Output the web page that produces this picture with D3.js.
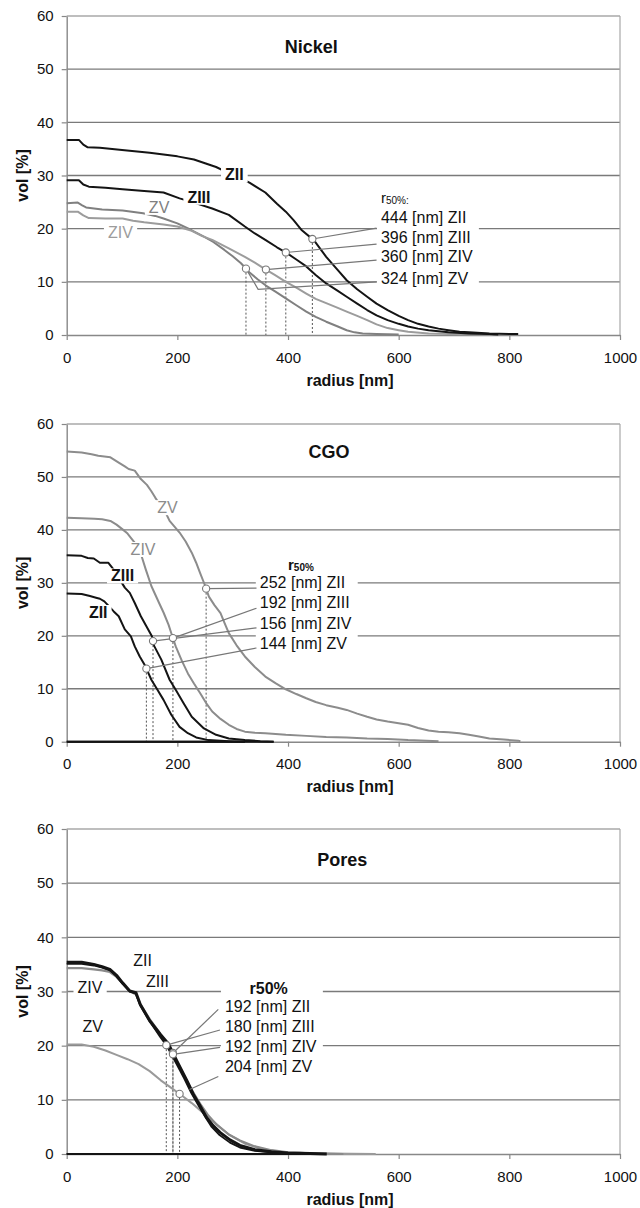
<!DOCTYPE html>
<html>
<head>
<meta charset="utf-8">
<script src="https://cdn.jsdelivr.net/npm/d3@7"></script>
<style>
  body { margin: 0; background: #fff; }
  svg { display: block; }
  text { font-family: "Liberation Sans", Arial, Helvetica, sans-serif; }
</style>
</head>
<body>
<svg id="chart" width="640" height="1208"></svg>
<script>
// ---- axis ticks ----
const xTicks = [0, 200, 400, 600, 800, 1000];
const yTicks = [0, 10, 20, 30, 40, 50, 60];
const zoneNames = ["ZII", "ZIII", "ZIV", "ZV"];

// ---- Nickel: cumulative volume [%] vs radius [nm] ----
const nickelZII = [[0,36.7],[22,36.7],[30,35.8],[38,35.3],[60,35.2],[100,34.8],[150,34.3],[200,33.6],[230,33.0],[250,32.3],[270,31.6],[290,30.6],[310,29.8],[331,28.6],[359,26.8],[380,24.7],[396,23.2],[410,21.6],[425,19.7],[447,17.8],[469,14.7],[490,12.2],[506,10.3],[525,8.6],[543,7.2],[560,5.9],[580,4.7],[600,3.6],[617,2.8],[635,2.1],[654,1.6],[672,1.2],[690,0.9],[710,0.6],[727,0.5],[764,0.3],[800,0.2],[816,0.2]];
const nickelZIII = [[0,29.1],[22,29.1],[30,28.3],[40,27.9],[70,27.7],[101,27.4],[140,27.1],[175,26.8],[204,25.7],[230,24.9],[263,23.8],[293,22.6],[322,20.4],[340,19.1],[359,17.9],[380,16.5],[398,15.4],[415,14.2],[433,12.9],[450,11.3],[469,9.7],[490,8.3],[506,7.2],[525,5.9],[543,4.7],[560,3.7],[580,2.8],[600,2.1],[617,1.6],[635,1.2],[654,0.9],[690,0.5],[727,0.3],[764,0.2],[780,0.1]];
const nickelZIV = [[0,23.2],[20,23.2],[30,22.5],[40,22.0],[70,21.9],[101,21.9],[120,21.5],[140,21.2],[175,20.8],[200,20.4],[226,19.6],[245,18.6],[263,17.9],[293,16.3],[322,14.7],[340,13.6],[357,12.5],[376,11.3],[396,10.0],[415,8.9],[433,7.8],[450,6.8],[469,6.0],[490,5.1],[506,4.4],[525,3.6],[543,2.8],[560,2.0],[580,1.3],[600,0.9],[617,0.6],[654,0.3],[690,0.2],[740,0.1],[770,0.1]];
const nickelZV = [[0,24.8],[20,24.9],[28,24.4],[35,24.0],[64,23.6],[101,23.4],[138,22.9],[160,22.4],[175,21.9],[200,21.0],[226,19.7],[248,18.5],[265,17.5],[285,16.0],[300,14.8],[315,13.5],[330,11.8],[345,10.5],[360,9.3],[378,8.1],[396,6.9],[415,5.6],[433,4.4],[450,3.4],[469,2.5],[490,1.6],[506,0.9],[520,0.5],[535,0.3],[560,0.2],[600,0.1]];
const nickelR50 = [444, 396, 360, 324];

// ---- CGO ----
const cgoZII = [[0,28.0],[27,27.9],[42,27.5],[53,27.2],[60,27.0],[68,26.5],[77,25.5],[85,24.6],[94,23.7],[105,21.2],[116,19.9],[123,18.0],[132,16.1],[141,14.5],[153,11.7],[164,9.8],[175,7.9],[189,5.1],[204,2.8],[219,1.6],[234,0.8],[256,0.3],[293,0.1],[322,0]];
const cgoZIII = [[0,35.2],[27,35.1],[38,34.7],[49,34.6],[60,33.8],[75,33.8],[85,32.5],[95,30.8],[105,29.1],[114,28.1],[123,26.2],[134,23.7],[144,21.8],[154,19.9],[158,18.1],[171,15.5],[186,11.7],[197,9.8],[211,7.3],[226,4.7],[248,2.5],[270,1.3],[293,0.6],[322,0.3],[350,0.1],[374,0]];
const cgoZIV = [[0,42.3],[27,42.2],[50,42.1],[64,42.0],[79,41.7],[90,41.0],[101,40.1],[110,39.3],[116,38.5],[125,37.3],[134,35.5],[143,32.5],[153,29.4],[160,27.8],[167,26.2],[175,24.4],[184,22.1],[190,20.2],[197,18.0],[208,15.3],[219,12.9],[230,11.0],[241,9.2],[252,7.3],[263,5.7],[278,4.3],[293,3.2],[307,2.4],[322,1.9],[340,1.7],[359,1.6],[396,1.3],[433,1.1],[469,0.9],[506,0.8],[543,0.6],[580,0.5],[617,0.3],[650,0.2],[672,0.1]];
const cgoZV = [[0,54.8],[27,54.6],[45,54.3],[57,54.0],[79,53.7],[94,52.7],[105,52.0],[112,51.5],[123,51.2],[134,49.6],[145,48.5],[153,47.3],[160,46.1],[170,44.5],[180,43.0],[186,41.7],[204,39.5],[215,37.8],[226,35.7],[234,33.8],[241,31.9],[250,29.5],[257,27.4],[267,25.8],[278,24.3],[285,22.5],[293,20.5],[307,18.2],[322,16.1],[340,14.1],[359,12.3],[378,11.0],[396,9.9],[415,9.0],[433,8.2],[450,7.5],[469,6.9],[490,6.4],[506,6.0],[525,5.3],[543,4.7],[560,4.2],[580,3.8],[600,3.5],[617,3.2],[635,2.6],[654,2.1],[672,1.9],[690,1.8],[710,1.6],[727,1.3],[745,1.0],[764,0.6],[790,0.4],[816,0.2],[820,0.1]];
const cgoR50 = [252, 192, 156, 144];
const cgoR50Curve = ["ZV", "ZIV", "ZIII", "ZII"];

// ---- Pores ----
const poresZII = [[0,35.4],[27,35.4],[49,35.0],[64,34.6],[78,34.1],[90,33.0],[101,31.6],[114,30.1],[125,29.8],[133,27.6],[150,24.6],[169,22.1],[184,20.3],[199,17.2],[217,13.6],[229,11.0],[241,8.9],[253,6.7],[265,5.2],[277,4.0],[295,2.6],[313,1.6],[340,0.8],[370,0.4],[400,0.2],[440,0.1],[470,0]];
const poresZIII = [[0,35.1],[27,35.1],[49,34.8],[64,34.4],[78,33.9],[90,32.8],[101,31.4],[114,30.0],[125,29.6],[133,27.4],[150,24.5],[169,21.6],[180,20.1],[195,17.3],[212,14.0],[225,11.3],[238,9.0],[250,6.9],[262,5.0],[275,3.6],[295,2.1],[313,1.2],[340,0.6],[370,0.3],[400,0.1],[433,0]];
const poresZIV = [[0,34.3],[27,34.3],[49,34.1],[64,33.9],[78,33.6],[90,32.7],[101,31.5],[114,30.0],[125,29.5],[133,27.7],[150,24.9],[169,22.2],[181,20.2],[192,18.4],[208,15.3],[225,12.0],[241,9.3],[256,7.1],[271,5.4],[293,3.6],[313,2.5],[340,1.4],[370,0.7],[400,0.3],[440,0.1],[500,0]];
const poresZV = [[0,20.2],[27,20.2],[49,19.8],[70,19.1],[90,18.3],[110,17.5],[130,16.6],[150,15.3],[170,13.6],[189,12.2],[208,10.8],[226,9.4],[241,8.1],[256,6.8],[271,5.5],[293,3.6],[322,1.9],[359,0.8],[396,0.3],[469,0.1],[558,0]];
const poresR50 = [192, 180, 192, 204];

// ---- styles ----
const BLACK = "#141414";
const GRID = "#7a7a7a";
const FONT = '"Liberation Sans", Arial, Helvetica, sans-serif';

// ---- panel layout (frames in px, annotation anchors in data units) ----
const X0 = 66.7, X1 = 620;
const panels = [
  {
    title: "Nickel", frame: { top: 16, bottom: 335 }, titleAt: [442, 54.2],
    series: [
      { name: "ZV",   data: nickelZV,   color: "#808080", width: 2 },
      { name: "ZIV",  data: nickelZIV,  color: "#9c9c9c", width: 2 },
      { name: "ZIII", data: nickelZIII, color: BLACK, width: 2 },
      { name: "ZII",  data: nickelZII,  color: BLACK, width: 2 }
    ],
    zeroTrace: [],
    curveLabels: [
      { text: "ZII",  at: [303, 30.1], color: BLACK, bold: true },
      { text: "ZIII", at: [239, 25.9], color: BLACK, bold: true },
      { text: "ZV",   at: [167, 24.0], color: "#808080", bold: false },
      { text: "ZIV",  at: [97, 19.3],  color: "#9c9c9c", bold: false }
    ],
    r50: nickelR50, r50Names: zoneNames, r50Curve: zoneNames,
    legend: { head: ["r", "50%:"], headBold: false, headAt: [568, 26.0], headAnchor: "start",
              rowX: 568, rowY: [22.1, 18.4, 14.7, 10.7],
              leadFrom: [[560, 20.1], [560, 17.1], [560, 14.1], [560, 10.0]],
              leadVia: [null, null, null, [346, 8.6]], leadTo: [null, null, null, null] }
  },
  {
    title: "CGO", frame: { top: 424, bottom: 741.7 }, titleAt: [474, 54.8],
    series: [
      { name: "ZV",   data: cgoZV,   color: "#8c8c8c", width: 2 },
      { name: "ZIV",  data: cgoZIV,  color: "#8c8c8c", width: 2 },
      { name: "ZIII", data: cgoZIII, color: BLACK, width: 2 },
      { name: "ZII",  data: cgoZII,  color: BLACK, width: 2 }
    ],
    zeroTrace: ["ZIII", "ZII"],
    curveLabels: [
      { text: "ZV",   at: [182, 44.2], color: "#8c8c8c", bold: false },
      { text: "ZIV",  at: [138, 36.3], color: "#8c8c8c", bold: false },
      { text: "ZIII", at: [101, 31.3], color: BLACK, bold: true },
      { text: "ZII",  at: [57, 24.4],  color: BLACK, bold: true }
    ],
    r50: cgoR50, r50Names: zoneNames, r50Curve: cgoR50Curve,
    legend: { head: ["r", "50%"], headBold: true, headAt: [400, 33.6], headAnchor: "start",
              rowX: 349, rowY: [30.0, 26.2, 22.3, 18.5],
              leadFrom: [[343, 29.0], [343, 25.2], [343, 21.5], [343, 17.7]],
              leadVia: [null, null, null, null], leadTo: [null, null, null, null] }
  },
  {
    title: "Pores", frame: { top: 829, bottom: 1154 }, titleAt: [498, 54.3],
    series: [
      { name: "ZV",   data: poresZV,   color: "#9a9a9a", width: 2 },
      { name: "ZIV",  data: poresZIV,  color: "#8a8a8a", width: 2.2 },
      { name: "ZIII", data: poresZIII, color: BLACK, width: 1.8 },
      { name: "ZII",  data: poresZII,  color: BLACK, width: 3 }
    ],
    zeroTrace: ["ZV", "ZIV", "ZIII", "ZII"],
    curveLabels: [
      { text: "ZII",  at: [137, 35.8], color: BLACK, bold: false },
      { text: "ZIII", at: [164, 31.9], color: BLACK, bold: false },
      { text: "ZIV",  at: [42, 30.8],  color: BLACK, bold: false },
      { text: "ZV",   at: [47, 23.6],  color: BLACK, bold: false }
    ],
    r50: poresR50, r50Names: zoneNames, r50Curve: zoneNames,
    legend: { head: ["r50%"], headBold: true, headAt: [365, 30.6], headAnchor: "middle",
              rowX: 286, rowY: [27.3, 23.6, 19.9, 16.2],
              leadFrom: [[274, 26.7], [277, 22.9], [277, 19.7], [274, 14.3]],
              leadVia: [null, null, null, null], leadTo: [null, null, null, [222, 11.9]] }
  }
];

const svg = d3.select("#chart");

// linear interpolation of a curve at radius r
function valueAt(data, r) {
  const i = d3.bisector(d => d[0]).left(data, r);
  if (i <= 0) return data[0][1];
  if (i >= data.length) return data[data.length - 1][1];
  const a = data[i - 1], b = data[i];
  const t = (r - a[0]) / (b[0] - a[0]);
  return a[1] + t * (b[1] - a[1]);
}

function boxedText(g, x, y, str, opts) {
  const t = g.append("text")
    .attr("x", x).attr("y", y)
    .attr("text-anchor", "middle")
    .attr("dominant-baseline", "central")
    .attr("font-size", opts.size)
    .attr("font-weight", opts.bold ? "bold" : "normal")
    .attr("fill", opts.color)
    .text(str);
  const bb = t.node().getBBox();
  g.insert("rect", () => t.node())
    .attr("x", bb.x - 4).attr("y", bb.y + 1)
    .attr("width", bb.width + 8).attr("height", bb.height - 2)
    .attr("fill", "#fff");
  return t;
}

panels.forEach(p => {
  const { top, bottom } = p.frame;
  const x = d3.scaleLinear().domain([0, 1000]).range([X0, X1]);
  const y = d3.scaleLinear().domain([0, 60]).range([bottom, top]);
  const g = svg.append("g");
  const line = d3.line().x(d => x(d[0])).y(d => y(d[1]));
  const byName = Object.fromEntries(p.series.map(s => [s.name, s]));

  // horizontal gridlines
  g.append("g").selectAll("line")
    .data(yTicks.filter(t => t > 0))
    .join("line")
    .attr("x1", X0).attr("x2", X1)
    .attr("y1", d => y(d)).attr("y2", d => y(d))
    .attr("stroke", d => d === 60 ? "#a8a8a8" : GRID)
    .attr("stroke-width", 1.3);

  // right border of the plot area
  g.append("line")
    .attr("x1", X1).attr("x2", X1).attr("y1", top).attr("y2", bottom)
    .attr("stroke", "#a8a8a8").attr("stroke-width", 1.2);

  // axes
  const yAxis = g.append("g").attr("transform", `translate(${X0},0)`)
    .call(d3.axisLeft(y).tickValues(yTicks).tickSize(5).tickSizeOuter(0).tickPadding(8));
  const xAxis = g.append("g").attr("transform", `translate(0,${bottom})`)
    .call(d3.axisBottom(x).tickValues(xTicks).tickFormat(d3.format("d"))
      .tickSize(5).tickSizeOuter(0).tickPadding(12));
  [yAxis, xAxis].forEach(a => {
    a.select(".domain").attr("stroke", "#888").attr("stroke-width", 1.4);
    a.selectAll(".tick line").attr("stroke", "#888").attr("stroke-width", 1.2);
    a.selectAll(".tick text").attr("font-family", FONT).attr("font-size", 15).attr("fill", "#111");
  });

  // axis titles and panel title
  g.append("text")
    .attr("x", 350).attr("y", bottom + 45)
    .attr("text-anchor", "middle").attr("dominant-baseline", "central")
    .attr("font-size", 16).attr("font-weight", "bold").attr("fill", "#111")
    .text("radius [nm]");
  g.append("text")
    .attr("transform", `translate(22,${(top + bottom) / 2}) rotate(-90)`)
    .attr("text-anchor", "middle").attr("dominant-baseline", "central")
    .attr("font-size", 16).attr("font-weight", "bold").attr("fill", "#111")
    .text("vol [%]");
  g.append("text")
    .attr("x", x(p.titleAt[0])).attr("y", y(p.titleAt[1]))
    .attr("text-anchor", "middle").attr("dominant-baseline", "central")
    .attr("font-size", 18).attr("font-weight", "bold").attr("fill", "#111")
    .text(p.title);

  // r50 points sit on their curves at the stated radius
  const marks = p.r50.map((r, i) => {
    const s = byName[p.r50Curve[i]];
    return { r, v: valueAt(s.data, r) };
  });

  // dotted drop lines from each r50 point to the axis
  g.append("g").selectAll("line").data(marks).join("line")
    .attr("x1", d => x(d.r)).attr("x2", d => x(d.r))
    .attr("y1", d => y(d.v)).attr("y2", y(0))
    .attr("stroke", "#555").attr("stroke-width", 1)
    .attr("stroke-dasharray", "2,2");

  // tails of curves that run back along the baseline
  p.zeroTrace.forEach(n => {
    const s = byName[n];
    const end = s.data[s.data.length - 1][0];
    g.append("path")
      .attr("d", line([[0, 0], [end, 0]]))
      .attr("fill", "none").attr("stroke", s.color).attr("stroke-width", 2);
  });

  // curves
  g.append("g").selectAll("path").data(p.series).join("path")
    .attr("d", d => line(d.data))
    .attr("fill", "none")
    .attr("stroke", d => d.color)
    .attr("stroke-width", d => d.width)
    .attr("stroke-linejoin", "round");

  // curve name labels on white boxes
  const lg = g.append("g");
  p.curveLabels.forEach(c => {
    boxedText(lg, x(c.at[0]), y(c.at[1]), c.text, { size: 16, bold: c.bold, color: c.color });
  });

  // r50 legend block
  const L = p.legend;
  const leg = g.append("g");
  const head = leg.append("text")
    .attr("x", x(L.headAt[0])).attr("y", y(L.headAt[1]))
    .attr("text-anchor", L.headAnchor).attr("dominant-baseline", "central")
    .attr("font-size", L.head.length > 1 ? 15 : 16)
    .attr("font-weight", L.headBold ? "bold" : "normal")
    .attr("fill", "#111");
  head.append("tspan").text(L.head[0]);
  if (L.head.length > 1) {
    head.append("tspan").attr("font-size", 10).attr("dy", 3).text(L.head[1]);
  }
  p.r50.forEach((r, i) => {
    leg.append("text")
      .attr("x", x(L.rowX)).attr("y", y(L.rowY[i]))
      .attr("dominant-baseline", "central")
      .attr("font-size", 16).attr("fill", "#111")
      .text(`${r} [nm] ${p.r50Names[i]}`);
  });
  const lb = leg.node().getBBox();
  leg.insert("rect", ":first-child")
    .attr("x", lb.x - 4).attr("y", lb.y)
    .attr("width", lb.width + 10).attr("height", lb.height)
    .attr("fill", "#fff");

  // leader lines from legend rows to r50 points
  marks.forEach((m, i) => {
    const pts = [L.leadFrom[i]];
    if (L.leadVia[i]) pts.push(L.leadVia[i]);
    pts.push(L.leadTo[i] || [m.r, m.v]);
    g.append("path")
      .attr("d", line(pts))
      .attr("fill", "none").attr("stroke", "#777").attr("stroke-width", 1.2);
  });

  // r50 markers
  g.append("g").selectAll("circle").data(marks).join("circle")
    .attr("cx", d => x(d.r)).attr("cy", d => y(d.v)).attr("r", 3.6)
    .attr("fill", "#fff").attr("stroke", "#777").attr("stroke-width", 1.1);
});
</script>
</body>
</html>
